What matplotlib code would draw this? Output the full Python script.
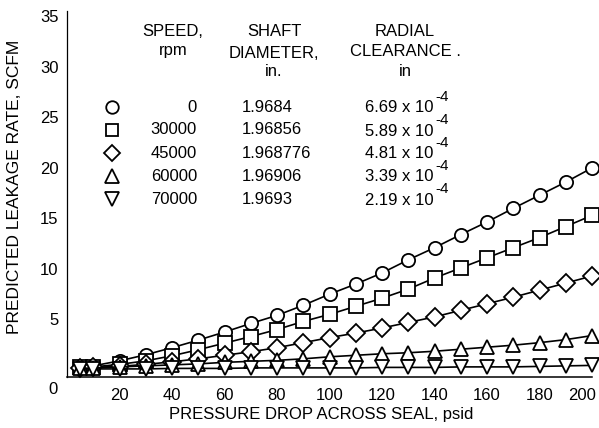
import matplotlib
matplotlib.use("Agg")
import matplotlib.pyplot as plt
from matplotlib.lines import Line2D
import matplotlib.transforms as mtransforms

plt.rcParams['font.family'] = ['Liberation Sans', 'DejaVu Sans']

# ---------------- data ----------------
pressure = [5, 10, 20, 30, 40, 50, 60, 70, 80, 90, 100,
            110, 120, 130, 140, 150, 160, 170, 180, 190, 200]
leak_0rpm = [0.3, 0.4, 0.9, 1.5, 2.2, 2.95, 3.75, 4.6, 5.4, 6.4, 7.5,
             8.5, 9.6, 10.9, 12.1, 13.4, 14.65, 16.0, 17.3, 18.6, 20.0]
leak_30000rpm = [0.25, 0.3, 0.55, 0.9, 1.4, 2.0, 2.65, 3.3, 4.0, 4.8, 5.5,
                 6.3, 7.1, 8.0, 9.1, 10.1, 11.1, 12.1, 13.1, 14.2, 15.3]
leak_45000rpm = [0.2, 0.25, 0.35, 0.55, 0.8, 1.1, 1.45, 1.8, 2.2, 2.7, 3.2,
                 3.65, 4.15, 4.7, 5.25, 5.9, 6.55, 7.2, 7.9, 8.6, 9.3]
leak_60000rpm = [0.15, 0.2, 0.3, 0.4, 0.5, 0.6, 0.75, 0.85, 0.95, 1.1, 1.3,
                 1.45, 1.6, 1.7, 1.85, 2.05, 2.25, 2.45, 2.7, 3.0, 3.4]
leak_70000rpm = [0.1, 0.1, 0.1, 0.1, 0.15, 0.15, 0.15, 0.2, 0.2, 0.2, 0.2,
                 0.2, 0.25, 0.25, 0.25, 0.3, 0.3, 0.3, 0.35, 0.4, 0.45]

series = [leak_0rpm, leak_30000rpm, leak_45000rpm, leak_60000rpm, leak_70000rpm]
speeds = ["0", "30000", "45000", "60000", "70000"]
diameters = ["1.9684", "1.96856", "1.968776", "1.96906", "1.9693"]
clearances = ["6.69", "5.89", "4.81", "3.39", "2.19"]
clearance_exp = "-4"
markers = ['o', 's', 'D', '^', 'v']
msizes = [9.5, 9.5, 9.0, 10.0, 10.0]

x_ticks = [20, 40, 60, 80, 100, 120, 140, 160, 180, 200]
y_ticks = [5, 10, 15, 20, 25, 30, 35]

head_speed = ["SPEED,", "rpm"]
head_diam = ["SHAFT", "DIAMETER,", "in."]
head_clear = ["RADIAL", "CLEARANCE .", "in"]

# ---------------- figure ----------------
W, H = 599, 428
fig = plt.figure(figsize=(W / 100, H / 100), dpi=100)
fig.patch.set_facecolor('white')


def fx(x):
    return x / W


def fy(y):
    return 1 - y / H


ax = fig.add_axes([fx(67), fy(377), 525 / W, (377 - 11.4) / H])
ax.set_xlim(0, 200)
ax.set_ylim(-0.7, 35.5)

for vals, mk, ms in zip(series, markers, msizes):
    ax.plot(pressure, vals, color='black', lw=1.2, marker=mk, ms=ms,
            mfc='white', mec='black', mew=1.3, clip_on=False, zorder=3)

for s in ['top', 'right']:
    ax.spines[s].set_visible(False)
ax.spines['left'].set_linewidth(0.9)
ax.spines['bottom'].set_linewidth(1.1)

ax.set_xticks(x_ticks)
ax.set_xticklabels([str(v) for v in x_ticks])
ax.set_yticks(y_ticks)
ax.set_yticklabels([str(v) for v in y_ticks])
ax.tick_params(axis='x', length=0, pad=8, labelsize=12)
ax.tick_params(axis='y', length=0, pad=6, labelsize=12)
ax.set_yticks([25, 30], minor=True)
ax.tick_params(axis='y', which='minor', direction='in', length=7, width=0.8)
ax.tick_params(axis='x', which='minor', length=0)

# shift last x tick label left so it stays inside the figure
lab = ax.get_xticklabels()[-1]
lab.set_transform(lab.get_transform() +
                  mtransforms.ScaledTranslation(-10 / 100, 0, fig.dpi_scale_trans))

# origin label
fig.text(fx(53), fy(389), "0", fontsize=12, ha='center', va='center')

ax.set_xlabel("PRESSURE DROP ACROSS SEAL, psid", fontsize=12)
ax.xaxis.set_label_coords((321 - 67) / 525, (377 - 415) / 365.6)
ax.xaxis.label.set_va('center')
ax.set_ylabel("PREDICTED LEAKAGE RATE, SCFM", fontsize=12.5)
ax.yaxis.set_label_coords((15 - 67) / 525, (377 - 187) / 365.6)
ax.yaxis.label.set_va('center')

# ---------------- table-style legend ----------------
fs = 12
for txt, y in zip(head_speed, [31, 51]):
    fig.text(fx(173), fy(y), txt, fontsize=fs, ha='center', va='center')
for txt, y in zip(head_diam, [32, 53, 72]):
    fig.text(fx(274), fy(y), txt, fontsize=fs, ha='center', va='center')
for txt, y in zip(head_clear, [32, 52, 72]):
    fig.text(fx(405), fy(y), txt, fontsize=fs, ha='center', va='center')

row_y = [107 + 23 * i for i in range(len(speeds))]
base_texts = []
for i, y in enumerate(row_y):
    ms_leg = msizes[i] * 0.95
    fig.add_artist(Line2D([fx(112)], [fy(y)], transform=fig.transFigure,
                          marker=markers[i], ms=ms_leg, mfc='white',
                          mec='black', mew=1.3, ls='none'))
    fig.text(fx(197), fy(y), speeds[i], fontsize=fs, ha='right', va='center')
    fig.text(fx(242), fy(y), diameters[i], fontsize=fs, ha='left', va='center')
    t = fig.text(fx(365), fy(y + 1), clearances[i] + " x 10", fontsize=fs,
                 ha='left', va='center')
    base_texts.append((t, y))

fig.canvas.draw()
renderer = fig.canvas.get_renderer()
for t, y in base_texts:
    bb = t.get_window_extent(renderer)
    fig.text((bb.x1 + 2) / W, fy(y - 10), clearance_exp, fontsize=11,
             ha='left', va='center')

fig.savefig("out.png", dpi=100, facecolor='white')
